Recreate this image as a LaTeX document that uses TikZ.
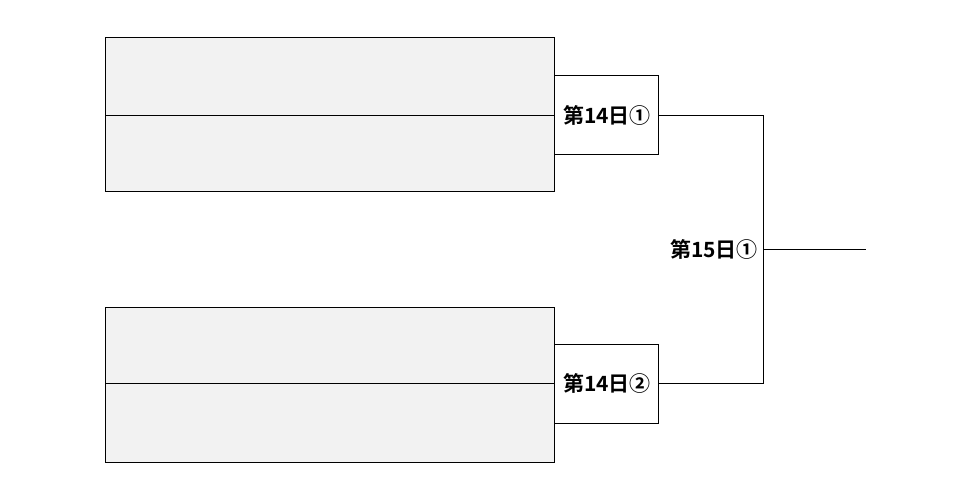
\documentclass[tikz,border=0pt]{standalone}
\usepackage{fontspec}
\newfontfamily\cjk{Noto Sans CJK JP}[BoldFont={* Bold}]
\usetikzlibrary{positioning}
\definecolor{boxgray}{RGB}{242,242,242}
\tikzset{
    team/.style={draw, fill=boxgray, line width=0.6pt},
    game/.style={draw, fill=white, line width=0.6pt},
    lbl/.style={font=\cjk\bfseries\fontsize{21}{24}\selectfont, inner sep=1pt},
    wire/.style={line width=0.6pt}
}
\begin{document}
\begin{tikzpicture}[x=1pt,y=-1pt]
    \useasboundingbox (0,0) rectangle (971,499);

    % upper block
    \draw[team] (105,37) rectangle (554,191);
    \draw[wire] (105,115) -- (554,115);
    \draw[game] (554,75) rectangle (658,154);
    \node[lbl] (g1) at (607,115) {第14日①};

    % lower block
    \draw[team] (105,307) rectangle (554,462);
    \draw[wire] (105,383) -- (554,383);
    \draw[game] (554,344) rectangle (658,423);
    \node[lbl] (g2) at (607,383) {第14日②};

    % final
    \coordinate (j1) at (763,115);
    \coordinate (j2) at (763,383);
    \coordinate (jm) at (763,249);
    \coordinate (out) at (866,249);
    \node[lbl, left=4pt of jm] (f1) {第15日①};

    \draw[wire] (658,115) -- (j1) -- (j2) -- (658,383);
    \draw[wire] (jm) -- (out);
\end{tikzpicture}
\end{document}
